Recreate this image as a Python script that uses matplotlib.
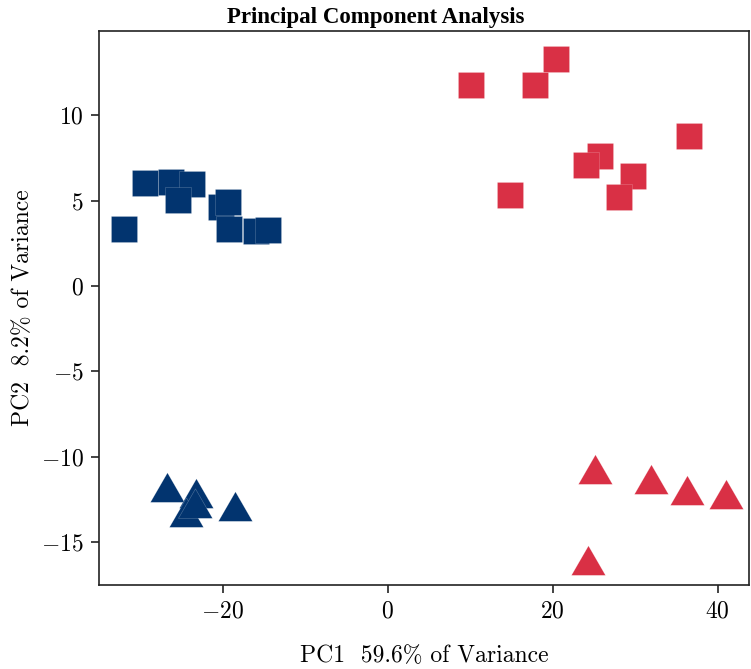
import matplotlib
matplotlib.use("Agg")
import matplotlib.pyplot as plt
from matplotlib.path import Path

plt.rcParams['font.family'] = 'cmr10'
plt.rcParams['mathtext.fontset'] = 'cm'
plt.rcParams['axes.formatter.use_mathtext'] = True
plt.rcParams['axes.unicode_minus'] = True

# Data (PC1, PC2)
blue_sq_x = [-32.0, -29.4, -26.3, -23.7, -25.4, -20.2, -19.3, -19.2, -16.0, -14.5]
blue_sq_y = [3.35, 6.04, 6.09, 5.97, 5.05, 4.61, 4.90, 3.32, 3.20, 3.30]
red_sq_x = [10.1, 17.8, 20.4, 36.5, 25.7, 24.1, 29.8, 28.0, 14.85]
red_sq_y = [11.78, 11.79, 13.3, 8.8, 7.59, 7.10, 6.46, 5.19, 5.31]
blue_tri_x = [-26.8, -23.2, -24.4, -23.4, -18.5]
blue_tri_y = [-12.08, -12.43, -13.5, -13.0, -13.17]
red_tri_x = [25.15, 31.9, 36.3, 41.0, 24.3]
red_tri_y = [-11.0, -11.61, -12.22, -12.49, -16.32]

blue = '#02346f'
red = '#d93045'

tri = Path([(0, 0.577), (-0.5, -0.289), (0.5, -0.289), (0, 0.577)],
           [Path.MOVETO, Path.LINETO, Path.LINETO, Path.CLOSEPOLY])

fig = plt.figure(figsize=(7.51, 6.69), dpi=100)
ax = fig.add_axes([0.1318, 0.1256, 0.8655, 0.8281])

sq_s = 18.7 ** 2
tri_s = 28.3 ** 2
edge = (1, 1, 1, 0.3)
ax.scatter(blue_sq_x, blue_sq_y, marker='s', s=sq_s, c=blue, edgecolors=[edge], linewidths=0.4, zorder=3)
ax.scatter(red_sq_x, red_sq_y, marker='s', s=sq_s, c=red, edgecolors=[edge], linewidths=0.4, zorder=3)
ax.scatter(blue_tri_x, blue_tri_y, marker=tri, s=tri_s, c=blue, edgecolors=[edge], linewidths=0.4, zorder=3)
ax.scatter(red_tri_x, red_tri_y, marker=tri, s=tri_s, c=red, edgecolors=[edge], linewidths=0.4, zorder=3)

ax.set_xlim(-35.0, 43.8)
ax.set_ylim(-17.5, 14.93)
ax.set_xticks([-20, 0, 20, 40])
ax.set_yticks([-15, -10, -5, 0, 5, 10])

for sp in ax.spines.values():
    sp.set_linewidth(1.2)
    sp.set_color('#222222')
ax.tick_params(axis='both', direction='out', length=6, width=1.2, labelsize=17, colors='#222222', labelcolor='black', pad=5)
ax.tick_params(top=False, right=False)

ax.set_xlabel('PC1  59.6% of Variance', fontsize=17, labelpad=16)
ax.set_ylabel('PC2  8.2% of Variance', fontsize=17, labelpad=5)
fig.text(0.5, 0.99, 'Principal Component Analysis', ha='center', va='top',
         fontsize=16.5, fontweight='bold', family='Liberation Serif')

fig.savefig('out.png', dpi=100)
